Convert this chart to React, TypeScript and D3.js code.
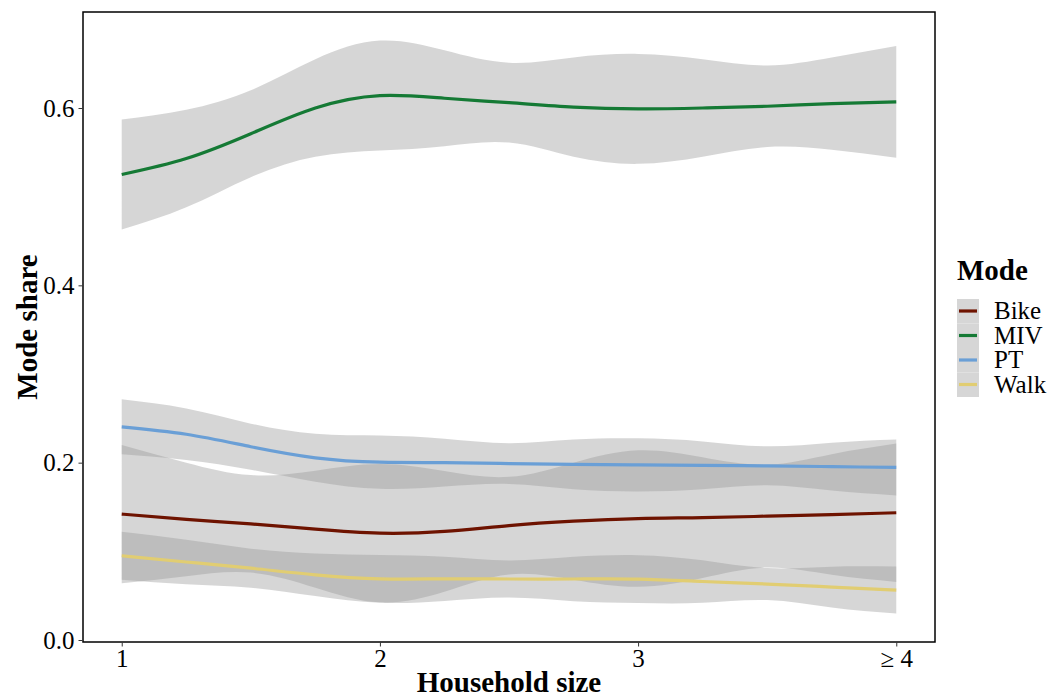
import React, { useRef, useEffect } from "react";
import * as d3 from "d3";

// household size positions (loess fit evaluated on a grid)
const sizes = [1, 1.25, 1.5, 1.75, 2, 2.25, 2.5, 2.75, 3, 3.25, 3.5, 3.75, 4];
const xTicks = [1, 2, 3, 4];
const xTickLabels = ["1", "2", "3", "\u2265 4"];
const yTicks = [0, 0.2, 0.4, 0.6];

const modes = ["Bike", "MIV", "PT", "Walk"];
const modeColors = ["#6e1300", "#157a35", "#6a9fd6", "#e1cd72"];

// fitted mode share and half width of the confidence band
const bikeFit = [0.142, 0.136, 0.131, 0.125, 0.1205, 0.1225, 0.129, 0.134, 0.137, 0.138, 0.1397, 0.1415, 0.1435];
const bikeCi = [0.078, 0.064, 0.055, 0.066, 0.078, 0.068, 0.055, 0.066, 0.077, 0.068, 0.058, 0.068, 0.078];
const mivFit = [0.525, 0.543, 0.571, 0.6, 0.614, 0.611, 0.606, 0.601, 0.599, 0.6, 0.602, 0.605, 0.607];
const mivCi = [0.062, 0.055, 0.049, 0.055, 0.062, 0.054, 0.045, 0.056, 0.062, 0.055, 0.046, 0.052, 0.063];
const ptFit = [0.2404, 0.232, 0.218, 0.2055, 0.2005, 0.2, 0.199, 0.198, 0.1975, 0.197, 0.1964, 0.1955, 0.1946];
const ptCi = [0.031, 0.029, 0.026, 0.027, 0.03, 0.027, 0.023, 0.028, 0.03, 0.027, 0.022, 0.027, 0.0315];
const walkFit = [0.095, 0.088, 0.081, 0.0735, 0.069, 0.069, 0.0688, 0.0688, 0.0687, 0.066, 0.0631, 0.0597, 0.0563];
const walkCi = [0.027, 0.025, 0.022, 0.024, 0.027, 0.025, 0.021, 0.025, 0.027, 0.024, 0.018, 0.023, 0.0265];

const fits = [bikeFit, mivFit, ptFit, walkFit];
const cis = [bikeCi, mivCi, ptCi, walkCi];

const App = () => {
  const container = useRef(null);

  const width = 1054;
  const height = 699;
  const panel = { left: 83, right: 935, top: 12, bottom: 642 };
  const font = "'Liberation Serif', 'Times New Roman', serif";

  useEffect(() => {
    const svg = d3.select(container.current);
    svg.selectAll("*").remove();

    const xScale = d3.scaleLinear().domain([0.85, 4.15]).range([panel.left, panel.right]);
    const yScale = d3.scaleLinear().domain([0, 0.6]).range([640, 108]);

    // smooth bands + lines, one group per mode
    modes.forEach((m, k) => {
      const rows = sizes.map((s, i) => ({ x: s, fit: fits[k][i], ci: cis[k][i] }));

      const area = d3
        .area<any>()
        .x((d) => xScale(d.x))
        .y0((d) => yScale(d.fit - d.ci))
        .y1((d) => yScale(d.fit + d.ci))
        .curve(d3.curveNatural);

      const line = d3
        .line<any>()
        .x((d) => xScale(d.x))
        .y((d) => yScale(d.fit))
        .curve(d3.curveNatural);

      svg.append("path").attr("d", area(rows)).attr("fill", "#999999").attr("fill-opacity", 0.4);
      svg
        .append("path")
        .attr("d", line(rows))
        .attr("fill", "none")
        .attr("stroke", modeColors[k])
        .attr("stroke-width", 3.2);
    });

    // panel border
    svg
      .append("rect")
      .attr("x", panel.left)
      .attr("y", panel.top)
      .attr("width", panel.right - panel.left)
      .attr("height", panel.bottom - panel.top)
      .attr("fill", "none")
      .attr("stroke", "black")
      .attr("stroke-width", 1.5);

    // y axis
    const yAxis = d3
      .axisLeft(yScale)
      .tickValues(yTicks)
      .tickSize(4)
      .tickPadding(4)
      .tickFormat((d) => d3.format(".1f")(d as number));
    const gy = svg.append("g").attr("transform", `translate(${panel.left - 0.5},0)`).call(yAxis);
    gy.select(".domain").remove();
    gy.selectAll("line").attr("stroke", "#333333").attr("stroke-width", 1);
    gy.selectAll("text")
      .attr("fill", "black")
      .style("font-family", font)
      .style("font-size", "25px");

    // x axis
    const xAxis = d3
      .axisBottom(xScale)
      .tickValues(xTicks)
      .tickSize(4)
      .tickPadding(3)
      .tickFormat((d, i) => xTickLabels[i]);
    const gx = svg.append("g").attr("transform", `translate(0,${panel.bottom + 0.5})`).call(xAxis);
    gx.select(".domain").remove();
    gx.selectAll("line").attr("stroke", "#333333").attr("stroke-width", 1);
    gx.selectAll("text")
      .attr("fill", "black")
      .style("font-family", font)
      .style("font-size", "25px");

    // axis titles
    svg
      .append("text")
      .attr("x", (panel.left + panel.right) / 2)
      .attr("y", 692)
      .attr("text-anchor", "middle")
      .style("font-family", font)
      .style("font-size", "29px")
      .style("font-weight", "bold")
      .text("Household size");

    svg
      .append("text")
      .attr("transform", `translate(37,${(panel.top + panel.bottom) / 2}) rotate(-90)`)
      .attr("text-anchor", "middle")
      .style("font-family", font)
      .style("font-size", "29px")
      .style("font-weight", "bold")
      .text("Mode share");

    // legend
    const legend = svg.append("g").attr("transform", "translate(957,0)");
    legend
      .append("text")
      .attr("x", 0)
      .attr("y", 280)
      .style("font-family", font)
      .style("font-size", "29px")
      .style("font-weight", "bold")
      .text("Mode");

    legend
      .selectAll("rect.key")
      .data(modes)
      .enter()
      .append("rect")
      .attr("class", "key")
      .attr("x", 0)
      .attr("y", (d, i) => 299 + i * 24.5)
      .attr("width", 22)
      .attr("height", 24.5)
      .attr("fill", "#d6d6d6");

    legend
      .selectAll("line.key")
      .data(modes)
      .enter()
      .append("line")
      .attr("x1", 2)
      .attr("x2", 20)
      .attr("y1", (d, i) => 311 + i * 24.5)
      .attr("y2", (d, i) => 311 + i * 24.5)
      .attr("stroke", (d, i) => modeColors[i])
      .attr("stroke-width", 3.2);

    legend
      .selectAll("text.label")
      .data(modes)
      .enter()
      .append("text")
      .attr("class", "label")
      .attr("x", 37)
      .attr("y", (d, i) => 319 + i * 24.5)
      .style("font-family", font)
      .style("font-size", "25px")
      .text((d) => d);
  }, []);

  return (
    <div style={{ position: "absolute", left: 0, top: 0, width: width, height: height }}>
      <svg ref={container} width={width} height={height} style={{ background: "white" }} />
    </div>
  );
};

export default App;
